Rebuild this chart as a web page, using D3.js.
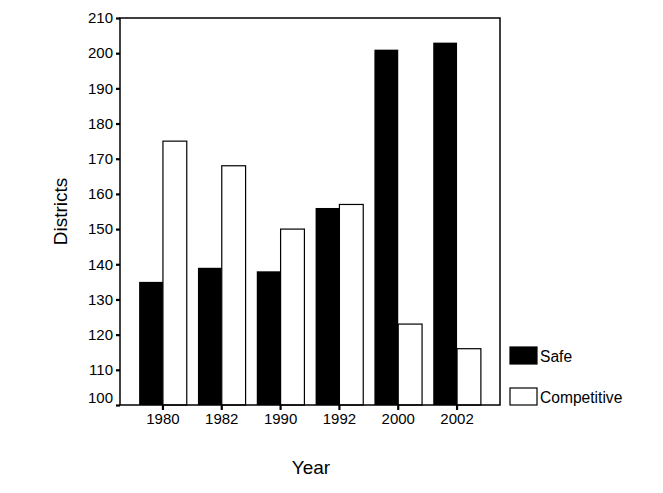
<!doctype html>
<html lang="en">
<head>
<meta charset="utf-8">
<title>Districts by year</title>
<style>
  body { margin: 0; background: #fff; }
  svg text { font-family: "Liberation Sans", Arial, sans-serif; fill: #000; }
</style>
</head>
<body>
<svg class="chart"></svg>
<script src="https://d3js.org/d3.v7.min.js"></script>
<script>
// data
var years = ["1980", "1982", "1990", "1992", "2000", "2002"];
var safe = [135, 139, 138, 156, 201, 203];
var competitive = [175, 168, 150, 157, 123, 116];
var seriesNames = ["Safe", "Competitive"];
var yTicks = [100, 110, 120, 130, 140, 150, 160, 170, 180, 190, 200, 210];

var width = 663, height = 493;
// plot box (note: "top" is taken by window.top, so keep these in an object)
var box = { left: 120, right: 500, top: 18, bottom: 405 };

var svg = d3.select(".chart")
    .attr("width", width)
    .attr("height", height);

var x0 = d3.scaleBand()
    .domain(years)
    .range([box.left, box.right])
    .paddingInner(0.19)
    .paddingOuter(0.325);

var x1 = d3.scaleBand()
    .domain(seriesNames)
    .range([0, x0.bandwidth()]);

var y = d3.scaleLinear()
    .domain([100, 210])
    .range([box.bottom, box.top]);

var fills = { "Safe": "#000", "Competitive": "#fff" };

var rows = years.map(function(yr, i) {
  return { year: yr, Safe: safe[i], Competitive: competitive[i] };
});

// bars
var group = svg.selectAll("g.grp")
    .data(rows)
  .enter().append("g")
    .attr("class", "grp")
    .attr("transform", function(d) { return "translate(" + x0(d.year) + ",0)"; });

group.selectAll("rect")
    .data(function(d) { return seriesNames.map(function(k) { return { key: k, value: d[k] }; }); })
  .enter().append("rect")
    .attr("x", function(d) { return x1(d.key); })
    .attr("y", function(d) { return y(d.value); })
    .attr("width", x1.bandwidth())
    .attr("height", function(d) { return y(100) - y(d.value); })
    .attr("fill", function(d) { return fills[d.key]; })
    .attr("stroke", "#000")
    .attr("stroke-width", function(d) { return d.key === "Competitive" ? 1.2 : 0; });

// frame
svg.append("rect")
    .attr("x", box.left)
    .attr("y", box.top)
    .attr("width", box.right - box.left)
    .attr("height", box.bottom - box.top)
    .attr("fill", "none")
    .attr("stroke", "#000")
    .attr("stroke-width", 1.5);

// axes
var yAxis = svg.append("g")
    .attr("transform", "translate(" + box.left + ",0)")
    .call(d3.axisLeft(y).tickValues(yTicks).tickSize(4).tickSizeOuter(0).tickPadding(3));
yAxis.select(".domain").remove();
yAxis.selectAll(".tick line").attr("stroke-width", 2.2);
yAxis.selectAll(".tick text")
    .style("font-size", "15px")
    .attr("dy", function(d) { return d === 100 ? "-0.15em" : "0.32em"; });

var xAxis = svg.append("g")
    .attr("transform", "translate(0," + box.bottom + ")")
    .call(d3.axisBottom(x0).tickSize(5).tickSizeOuter(0).tickPadding(3));
xAxis.select(".domain").remove();
xAxis.selectAll(".tick line").attr("stroke-width", 2.2);
xAxis.selectAll(".tick text").style("font-size", "15px");

// axis titles
svg.append("text")
    .attr("x", (box.left + box.right) / 2 + 1)
    .attr("y", 474)
    .attr("text-anchor", "middle")
    .style("font-size", "19px")
    .text("Year");

svg.append("text")
    .attr("transform", "translate(67," + ((box.top + box.bottom) / 2) + ") rotate(-90)")
    .attr("text-anchor", "middle")
    .style("font-size", "19px")
    .text("Districts");

// legend
var legend = svg.selectAll("g.legend")
    .data(seriesNames)
  .enter().append("g")
    .attr("class", "legend")
    .attr("transform", function(d, i) { return "translate(510," + (347 + i * 41) + ")"; });

legend.append("rect")
    .attr("width", 27)
    .attr("height", 17)
    .attr("fill", function(d) { return fills[d]; })
    .attr("stroke", "#000")
    .attr("stroke-width", 1.2);

legend.append("text")
    .attr("x", 30)
    .attr("y", 15)
    .style("font-size", "15.6px")
    .text(function(d) { return d; });
</script>
</body>
</html>
